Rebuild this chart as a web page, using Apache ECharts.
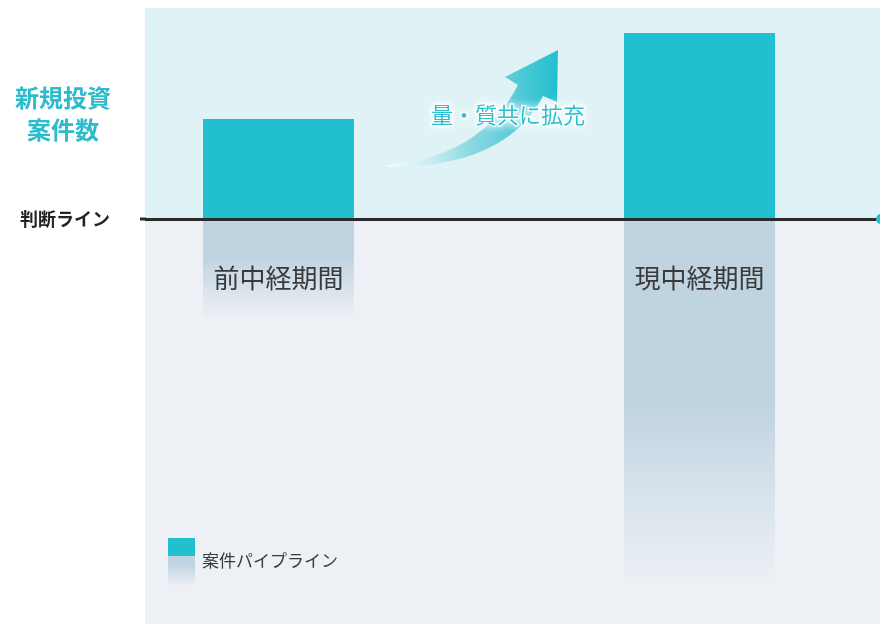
<!DOCTYPE html>
<html>
<head>
<meta charset="utf-8">
<script src="https://cdn.jsdelivr.net/npm/echarts@6/dist/echarts.min.js"></script>
<style>html,body{margin:0;padding:0;background:#fff}#c{width:880px;height:624px}</style>
</head>
<body>
<div id="c"></div>
<script>
// ---- data ----
const categories = ['前中経期間', '現中経期間'];
const newInvestmentCases = [100, 186];   // above the judgment line
const pipelineCases = [-100, -366];      // pipeline, below the judgment line
const judgmentLine = 0;
const yMax = 211;
const yMin = -405;
const seriesNames = ['新規投資案件数', '案件パイプライン'];

// ---- style ----
const FONT = '"Noto Sans CJK JP", "Noto Sans", sans-serif';
const CYAN = '#22bfcf';
const PIPE = '#bfd3e1';
const BG_UP = '#dff3f6';
const BG_LOW = '#edf0f5';
const fadeStart = [0.38, 0.5];

function pipeGradient(i) {
  return new echarts.graphic.LinearGradient(0, 0, 0, 1, [
    { offset: 0, color: PIPE },
    { offset: fadeStart[i], color: PIPE },
    { offset: 1, color: 'rgba(237,240,245,0.9)' }
  ]);
}

// sample a quadratic bezier (decoration arrow outline)
function quad(p0, c, p1, n) {
  const pts = [];
  for (let k = 0; k <= n; k++) {
    const t = k / n, u = 1 - t;
    pts.push([u * u * p0[0] + 2 * u * t * c[0] + t * t * p1[0], u * u * p0[1] + 2 * u * t * c[1] + t * t * p1[1]]);
  }
  return pts;
}
const arrowPts = [].concat(
  quad([385, 165], [480, 158], [518, 85], 30),
  [[505, 77], [558, 50], [557, 102], [543, 96]],
  quad([543, 96], [505, 168], [387, 167], 30)
);

const chart = echarts.init(document.getElementById('c'), null, { renderer: 'canvas' });

const option = {
  animation: false,
  backgroundColor: '#ffffff',
  textStyle: { fontFamily: FONT },
  grid: [
    { left: 145, width: 735, top: 8, height: 616 },
    { left: 278.5, width: 421, top: 8, height: 616 }
  ],
  xAxis: [
    { type: 'category', gridIndex: 0, data: categories, show: false },
    { type: 'category', gridIndex: 1, data: categories, show: false, boundaryGap: false }
  ],
  yAxis: [
    { type: 'value', gridIndex: 0, min: yMin, max: yMax, show: false, splitLine: { show: false } },
    { type: 'value', gridIndex: 1, min: yMin, max: yMax, show: false, splitLine: { show: false } }
  ],
  series: [
    {
      type: 'line', xAxisIndex: 0, yAxisIndex: 0, data: ['-', '-'], z: 0, silent: true,
      markArea: {
        silent: true,
        data: [
          [{ yAxis: judgmentLine, itemStyle: { color: BG_UP } }, { yAxis: yMax }],
          [{ yAxis: yMin, itemStyle: { color: BG_LOW } }, { yAxis: judgmentLine }]
        ]
      }
    },
    {
      name: seriesNames[0], type: 'bar', xAxisIndex: 1, yAxisIndex: 1, z: 2, clip: false,
      barWidth: 151, barGap: '-100%',
      itemStyle: { color: CYAN },
      data: newInvestmentCases
    },
    {
      name: seriesNames[1], type: 'bar', xAxisIndex: 1, yAxisIndex: 1, z: 2, clip: false,
      barWidth: 151, barGap: '-100%',
      data: pipelineCases.map((v, i) => ({ value: v, itemStyle: { color: pipeGradient(i) } })),
      label: {
        show: true, formatter: '{b}', position: ['50%', 46], align: 'center', verticalAlign: 'top',
        fontSize: 26, color: '#3a3a3a', fontFamily: FONT
      }
    },
    {
      type: 'line', xAxisIndex: 0, yAxisIndex: 0, data: ['-', '-'], z: 10, silent: true,
      markLine: {
        silent: true, symbol: ['none', 'none'],
        label: { show: false },
        lineStyle: { color: '#2a2a2a', width: 3, type: 'solid' },
        data: [{ yAxis: judgmentLine }]
      }
    }
  ]
};
chart.setOption(option);

const lineY = chart.convertToPixel({ yAxisIndex: 0 }, judgmentLine);

chart.setOption({
  graphic: [
    { type: 'line', shape: { x1: 140, y1: lineY, x2: 146, y2: lineY }, style: { stroke: '#2a2a2a', lineWidth: 3 }, z: 20 },
    { type: 'circle', shape: { cx: 881, cy: lineY, r: 5 }, style: { fill: CYAN }, z: 21 },
    {
      type: 'text', x: 63, y: 82, z: 20,
      style: { text: '新規投資\n案件数', fill: '#2bbccc', font: 'bold 24px ' + FONT, align: 'center', lineHeight: 32 }
    },
    {
      type: 'text', x: 65, y: lineY - 9, z: 20,
      style: { text: '判断ライン', fill: '#222222', font: 'bold 18px ' + FONT, align: 'center' }
    },
    {
      type: 'polygon', z: 15,
      shape: { points: arrowPts },
      style: {
        fill: new echarts.graphic.LinearGradient(0, 0, 1, 0, [
          { offset: 0, color: 'rgba(255,255,255,0.6)' },
          { offset: 0.5, color: '#8ad8e2' },
          { offset: 1, color: '#22bfcf' }
        ])
      }
    },
    {
      type: 'text', x: 508, y: 104, z: 16,
      style: {
        text: '量・質共に拡充', fill: '#2ebfce', font: '22px ' + FONT, align: 'center',
        stroke: 'rgba(255,255,255,0.85)', lineWidth: 3,
        textShadowColor: '#ffffff', textShadowBlur: 8
      }
    },
    { type: 'rect', shape: { x: 168, y: 538, width: 27, height: 18 }, style: { fill: CYAN }, z: 20 },
    {
      type: 'rect', shape: { x: 168, y: 556, width: 27, height: 30 }, z: 20,
      style: {
        fill: new echarts.graphic.LinearGradient(0, 0, 0, 1, [
          { offset: 0, color: PIPE }, { offset: 0.3, color: PIPE }, { offset: 1, color: 'rgba(237,240,245,0.9)' }
        ])
      }
    },
    {
      type: 'text', x: 202, y: 552, z: 20,
      style: { text: seriesNames[1], fill: '#3a3a3a', font: '17px ' + FONT }
    }
  ]
});
</script>
</body>
</html>
